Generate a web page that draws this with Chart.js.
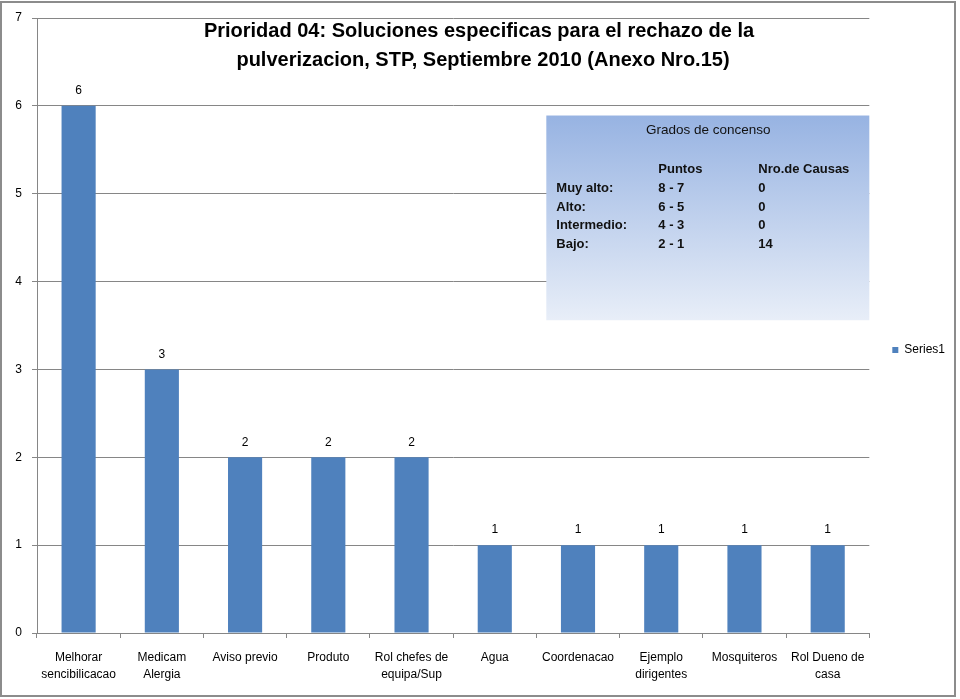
<!DOCTYPE html>
<html>
<head>
<meta charset="utf-8">
<script src="https://cdn.jsdelivr.net/npm/chart.js@4/dist/chart.umd.min.js"></script>
<style>
html,body{margin:0;padding:0;background:#fff;}
#wrap{width:960px;height:699px;position:relative;}
</style>
</head>
<body>
<div id="wrap"><canvas id="c" width="960" height="699"></canvas></div>
<script>
const categories = [
  ["Melhorar","sencibilicacao"],
  ["Medicam","Alergia"],
  ["Aviso previo"],
  ["Produto"],
  ["Rol chefes de","equipa/Sup"],
  ["Agua"],
  ["Coordenacao"],
  ["Ejemplo","dirigentes"],
  ["Mosquiteros"],
  ["Rol Dueno de","casa"]
];
const series1 = [6, 3, 2, 2, 2, 1, 1, 1, 1, 1];
const yTicks = [0, 1, 2, 3, 4, 5, 6, 7];
const titleLines = [
  "Prioridad 04: Soluciones especificas para el rechazo de la",
  "pulverizacion, STP, Septiembre 2010 (Anexo Nro.15)"
];
const boxTitle = "Grados de concenso";
const boxHeader = ["", "Puntos", "Nro.de Causas"];
const boxLevels = ["Muy alto:", "Alto:", "Intermedio:", "Bajo:"];
const boxPoints = ["8 - 7", "6 - 5", "4 - 3", "2 - 1"];
const boxCauses = ["0", "0", "0", "14"];

const FONT = "'Liberation Sans', Arial, sans-serif";
const BAR = '#4f81bd';
const GRID = '#868686';

const decor = {
  id: 'decor',
  afterDatasetsDraw(chart) {
    const ctx = chart.ctx;
    const ca = chart.chartArea;
    const ys = chart.scales.y;
    ctx.save();
    // data labels
    const meta = chart.getDatasetMeta(0);
    ctx.fillStyle = '#000';
    ctx.font = '12px ' + FONT;
    ctx.textAlign = 'center';
    ctx.textBaseline = 'middle';
    meta.data.forEach((el, i) => {
      ctx.fillText(String(series1[i]), el.x, el.y - 15);
    });
    // info box
    const bx = ca.right - 323, by = ys.getPixelForValue(5.89);
    const bw = 323, bh = ys.getPixelForValue(3.56) - by;
    const g = ctx.createLinearGradient(0, by, 0, by + bh);
    g.addColorStop(0, '#97b3e2');
    g.addColorStop(1, '#e8eef8');
    ctx.fillStyle = g;
    ctx.fillRect(bx, by, bw, bh);
    ctx.fillStyle = '#111';
    ctx.textBaseline = 'middle';
    ctx.font = '13.5px ' + FONT;
    ctx.textAlign = 'center';
    ctx.fillText(boxTitle, bx + 162, by + 15, 128);
    ctx.textAlign = 'left';
    ctx.font = 'bold 13px ' + FONT;
    const c0 = bx + 10, c1 = bx + 112, c2 = bx + 212;
    ctx.fillText(boxHeader[1], c1, by + 54);
    ctx.fillText(boxHeader[2], c2, by + 54);
    for (let i = 0; i < boxLevels.length; i++) {
      const yy = by + 73 + i * 18.7;
      ctx.fillText(boxLevels[i], c0, yy);
      ctx.fillText(boxPoints[i], c1, yy);
      ctx.fillText(boxCauses[i], c2, yy);
    }
    // title
    ctx.fillStyle = '#000';
    ctx.font = 'bold 20px ' + FONT;
    ctx.textAlign = 'center';
    ctx.fillText(titleLines[0], 479, 31, 590);
    ctx.fillText(titleLines[1], 483, 60, 548);
    ctx.restore();
  },
  afterDraw(chart) {
    const ctx = chart.ctx;
    ctx.save();
    ctx.strokeStyle = '#8c8c8c';
    ctx.lineWidth = 2;
    ctx.strokeRect(1, 2, 954, 694);
    ctx.restore();
  }
};

new Chart(document.getElementById('c'), {
  type: 'bar',
  data: {
    labels: categories,
    datasets: [{
      label: 'Series1',
      data: series1,
      backgroundColor: BAR,
      borderWidth: 0,
      barPercentage: 0.41,
      categoryPercentage: 1.0
    }]
  },
  options: {
    responsive: false,
    animation: false,
    events: [],
    layout: { padding: { left: 6, right: 5, top: 18, bottom: 17 } },
    plugins: {
      title: { display: false },
      tooltip: { enabled: false },
      legend: {
        display: true,
        position: 'right',
        labels: {
          boxWidth: 6,
          boxHeight: 6,
          padding: 23,
          color: '#000',
          font: { family: FONT, size: 12 }
        }
      }
    },
    scales: {
      x: {
        offset: true,
        afterFit(scale) {
          scale.paddingLeft = 0; scale.paddingRight = 0;
          scale.paddingTop = 0; scale.paddingBottom = 0;
          scale.height = 49;
        },
        grid: {
          offset: true,
          drawOnChartArea: false,
          drawTicks: true,
          tickLength: 5,
          color: GRID
        },
        border: { display: true, color: GRID },
        ticks: {
          autoSkip: false,
          maxRotation: 0,
          minRotation: 0,
          padding: 11,
          color: '#000',
          font: { family: FONT, size: 12, lineHeight: '17px' }
        }
      },
      y: {
        min: 0,
        max: 7,
        afterFit(scale) {
          scale.paddingLeft = 0; scale.paddingRight = 0;
          scale.paddingTop = 0; scale.paddingBottom = 0;
          scale.width = 31;
        },
        afterBuildTicks(scale) { scale.ticks = yTicks.map(v => ({ value: v })); },
        grid: { color: GRID, tickLength: 5, drawTicks: true },
        border: { display: true, color: GRID },
        ticks: {
          padding: 10,
          color: '#000',
          font: { family: FONT, size: 12 }
        }
      }
    }
  },
  plugins: [decor]
});
</script>
</body>
</html>
